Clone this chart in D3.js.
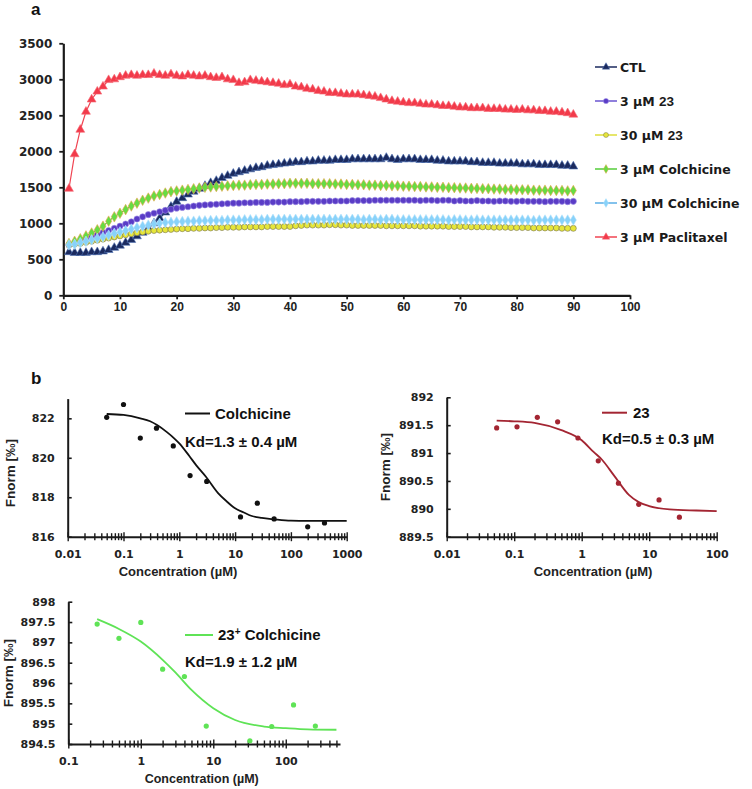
<!DOCTYPE html>
<html><head><meta charset="utf-8">
<script src="https://cdn.jsdelivr.net/npm/d3@7"></script>
<style>body{margin:0;background:#fff}</style>
</head><body><svg id="c" width="752" height="789" style="background:#fff"></svg>
<script>
// ---------- Panel a data ----------
const minutes = d3.range(1, 91);
const topXTicks = [0,10,20,30,40,50,60,70,80,90,100];
const topYTicks = [0,500,1000,1500,2000,2500,3000,3500];
const seriesNames = ["CTL","3 µM 23","30 µM 23","3 µM Colchicine","30 µM Colchicine","3 µM Paclitaxel"];

const ctl = [600,590,590,590,600,600,610,630,660,690,
730,770,820,870,930,1000,1070,1150,1230,1300,
1350,1400,1440,1480,1520,1560,1590,1630,1660,1690,
1710,1730,1750,1770,1780,1800,1810,1820,1830,1840,
1850,1850,1860,1860,1870,1870,1870,1880,1880,1880,
1890,1890,1890,1890,1890,1890,1910,1890,1880,1890,
1890,1890,1880,1880,1880,1870,1870,1860,1860,1860,
1860,1850,1850,1840,1840,1840,1830,1830,1830,1830,
1820,1820,1820,1810,1810,1810,1810,1800,1800,1790];
const c23low = [700,720,745,775,810,840,870,900,930,960,
990,1020,1060,1090,1120,1140,1160,1180,1195,1210,
1220,1230,1240,1250,1255,1260,1265,1270,1275,1280,
1280,1285,1285,1290,1290,1290,1295,1295,1295,1300,
1300,1300,1305,1305,1305,1305,1310,1310,1310,1310,
1315,1315,1315,1315,1320,1320,1320,1320,1320,1320,
1320,1320,1315,1320,1320,1315,1320,1320,1310,1315,
1310,1310,1315,1310,1310,1305,1310,1310,1305,1305,
1310,1305,1305,1305,1300,1305,1305,1305,1300,1305];
const c23high = [700,710,720,735,750,765,780,795,810,825,
840,855,870,880,890,900,905,910,915,920,
925,925,930,930,935,935,940,940,945,945,
945,950,950,950,950,955,955,955,955,955,
965,970,975,975,975,975,980,980,975,975,
970,970,970,970,970,970,965,965,965,965,
965,965,960,960,960,960,960,955,955,955,
955,950,950,950,950,945,945,945,940,940,
940,940,935,935,935,935,935,930,930,930];
const colLow = [720,750,785,825,865,910,960,1030,1090,1140,
1190,1240,1280,1320,1350,1380,1400,1420,1440,1450,
1460,1470,1480,1490,1500,1505,1510,1515,1520,1525,
1530,1530,1535,1540,1540,1545,1545,1550,1550,1555,
1555,1555,1555,1550,1550,1550,1550,1545,1545,1540,
1540,1535,1535,1530,1530,1525,1525,1520,1520,1515,
1515,1510,1510,1505,1505,1500,1500,1495,1495,1490,
1490,1485,1485,1480,1480,1475,1475,1470,1470,1465,
1465,1465,1460,1460,1460,1455,1455,1455,1450,1455];
const colHigh = [700,710,730,750,770,790,810,835,860,880,
900,920,940,960,975,990,1000,1010,1015,1020,
1025,1030,1030,1035,1035,1040,1040,1040,1045,1045,
1045,1050,1050,1050,1050,1055,1055,1055,1055,1055,
1055,1055,1055,1055,1055,1055,1055,1055,1055,1055,
1055,1055,1050,1055,1055,1050,1055,1055,1050,1050,
1050,1050,1050,1050,1050,1050,1050,1045,1050,1050,
1045,1045,1050,1045,1045,1045,1045,1045,1045,1045,
1045,1045,1040,1045,1045,1045,1045,1045,1045,1045];
const paclitaxel = [1480,1960,2300,2550,2720,2830,2900,2990,3000,3030,
3050,3060,3050,3060,3060,3080,3060,3050,3070,3050,
3040,3060,3050,3040,3050,3030,3020,3030,3000,2990,
2950,2960,2990,2980,2970,2960,2950,2940,2920,2930,
2900,2890,2870,2860,2840,2830,2810,2810,2800,2790,
2790,2790,2780,2770,2760,2740,2720,2700,2690,2680,
2670,2670,2660,2650,2650,2640,2630,2630,2620,2610,
2610,2600,2600,2600,2590,2590,2590,2580,2580,2575,
2580,2570,2570,2560,2560,2550,2550,2540,2530,2510];

// ---------- Panel b data ----------
const colConc = [0.05,0.1,0.2,0.39,0.78,1.56,3.1,12.5,25,50,200,400];
const colF = [822.05,822.7,821.0,821.5,820.6,819.1,818.8,817.0,817.7,816.9,816.5,816.7];
const colFitConc = [0.05,0.1,0.2,0.3,0.4,0.6,0.8,1,1.5,2,3,5,7,10,15,20,30,50,100,200,500,1000];
const colFitF = [822.22,822.17,822.0,821.85,821.66,821.3,821.0,820.73,820.1,819.63,819.04,818.2,817.8,817.44,817.2,817.05,816.95,816.88,816.81,816.8,816.8,816.8];
const colYTicks = [816,818,820,822];
const colXLabels = [0.01,0.1,1,10,100,1000];

const c23Conc = [0.055,0.11,0.22,0.44,0.88,1.76,3.5,7,14,28];
const c23F = [891.45,891.47,891.64,891.56,891.27,890.86,890.46,890.08,890.16,889.85];
const c23FitConc = [0.055,0.1,0.2,0.5,1,1.5,2,3,5,7,10,20,50,100];
const c23FitF = [891.58,891.57,891.54,891.41,891.23,891.02,890.88,890.6,890.25,890.12,890.05,889.99,889.97,889.96];
const c23YTicks = [889.5,890,890.5,891,891.5,892];
const c23XLabels = [0.01,0.1,1,10,100];

const mixConc = [0.25,0.5,1,2,4,8,32,64,128,256];
const mixF = [897.45,897.1,897.49,896.34,896.16,894.94,894.58,894.93,895.46,894.94];
const mixFitConc = [0.25,0.5,1,2,3,5,10,20,50,100,200,500];
const mixFitF = [897.57,897.33,897.02,896.57,896.26,895.83,895.38,895.09,894.93,894.89,894.86,894.85];
const mixYTicks = [894.5,895,895.5,896,896.5,897,897.5,898];
const mixXLabels = [0.1,1,10,100];

// ---------- Drawing ----------
const svg = d3.select("#c");
const AX = "#1a1a1a";
const FB = "'Liberation Sans', Arial, sans-serif";
const FD = "'DejaVu Sans', sans-serif";

svg.append("text").attr("x",31).attr("y",15).text("a")
  .attr("font-family",FB).attr("font-weight","bold").attr("font-size",17).attr("fill","#111");
svg.append("text").attr("x",31).attr("y",384).text("b")
  .attr("font-family",FB).attr("font-weight","bold").attr("font-size",17).attr("fill","#111");

// Panel a
const xT = d3.scaleLinear().domain([0,100]).range([63.3,630]);
const yT = d3.scaleLinear().domain([0,3500]).range([295.3,43.3]);

const gxa = svg.append("g").attr("transform",`translate(0,${yT(0)})`)
  .call(d3.axisBottom(xT).tickValues(topXTicks).tickFormat(d3.format("d")).tickSize(4).tickSizeOuter(0));
gxa.select(".domain").attr("stroke",AX).attr("stroke-width",2.2);
gxa.selectAll(".tick line").attr("stroke",AX).attr("stroke-width",1.8);
gxa.selectAll(".tick text").attr("font-family",FB).attr("font-weight","bold")
  .attr("font-size",12).attr("fill","#222");

const gya = svg.append("g").attr("transform",`translate(${xT(0)},0)`)
  .call(d3.axisLeft(yT).tickValues(topYTicks).tickFormat(d3.format("d")).tickSize(4).tickPadding(7).tickSizeOuter(0));
gya.select(".domain").attr("stroke",AX).attr("stroke-width",2.2);
gya.selectAll(".tick line").attr("stroke",AX).attr("stroke-width",1.8);
gya.selectAll(".tick text").attr("font-family",FD).attr("font-weight","bold")
  .attr("font-size",12).attr("fill","#222");

const seriesValues = [ctl, c23low, c23high, colLow, colHigh, paclitaxel];
const seriesStyle = [
  {line:"#1b2a5e", fill:"#1b2a5e", stroke:"#4f72b5", sym:d3.symbolTriangle, size:34},
  {line:"#6a55d0", fill:"#5a3cc6", stroke:"#9d8fe6", sym:d3.symbolCircle, size:30},
  {line:"#dede3a", fill:"#e6e63a", stroke:"#77744c", sym:d3.symbolCircle, size:28},
  {line:"#55cc3a", fill:"#66dc44", stroke:"#eea24a", sym:d3.symbolDiamond, size:32},
  {line:"#5aaee6", fill:"#88d2fa", stroke:"#b5e2fb", sym:d3.symbolDiamond, size:32},
  {line:"#f04452", fill:"#f23a4a", stroke:"#f56a76", sym:d3.symbolTriangle, size:34}
];
const lineT = d3.line().x((d,i)=>xT(minutes[i])).y(d=>yT(d));
seriesValues.forEach((vals,si)=>{
  const st = seriesStyle[si];
  const g = svg.append("g");
  g.append("path").attr("d",lineT(vals)).attr("fill","none").attr("stroke",st.line).attr("stroke-width",1.2);
  g.selectAll("path.m").data(vals).join("path").attr("class","m")
    .attr("d",d3.symbol().type(st.sym).size(st.size)())
    .attr("transform",(d,i)=>`translate(${xT(minutes[i])},${yT(d)})`)
    .attr("fill",st.fill).attr("stroke",st.stroke).attr("stroke-width",0.6);
});

// legend a
const legY = d3.scalePoint().domain(seriesNames).range([67,237]);
seriesNames.forEach((name,si)=>{
  const st = seriesStyle[si];
  const y = legY(name);
  svg.append("line").attr("x1",595).attr("x2",617).attr("y1",y).attr("y2",y)
    .attr("stroke",st.line).attr("stroke-width",1.5);
  svg.append("path").attr("d",d3.symbol().type(st.sym).size(st.size*0.7)())
    .attr("transform",`translate(606,${y})`).attr("fill",st.fill).attr("stroke",st.stroke).attr("stroke-width",0.5);
  const t = svg.append("text").attr("x",620).attr("y",y+4.5)
    .attr("font-family",FD).attr("font-weight","bold").attr("font-size",12.5).attr("fill","#1a1a1a");
  const m = name.match(/^(.*µM )23$/);
  if (m) {
    t.append("tspan").text(m[1]);
    t.append("tspan").attr("font-family",FB).attr("font-size",13.5).text("23");
  } else t.text(name);
});

// ---------- log panels ----------
function logTicks(d0,d1){
  const out=[];
  for(let e=Math.floor(Math.log10(d0)); e<=Math.ceil(Math.log10(d1)); e++){
    for(let m=1;m<=9;m++){
      const v=+(m*Math.pow(10,e)).toPrecision(6);
      if(v>=d0*0.999 && v<=d1*1.001) out.push(v);
    }
  }
  return out;
}
function panel(cfg){
  const x = d3.scaleLog().domain(cfg.xDomain).range(cfg.xRange);
  const y = d3.scaleLinear().domain(cfg.yDomain).range(cfg.yRange);
  const g = svg.append("g");
  const majors = new Set(cfg.xLabels);
  const gx = g.append("g").attr("transform",`translate(0,${cfg.yRange[0]})`)
    .call(d3.axisBottom(x).tickValues(logTicks(cfg.xDomain[0],cfg.xDomain[1]))
      .tickFormat(v=>majors.has(v)?String(v):"").tickSize(4).tickSizeOuter(0));
  gx.select(".domain").attr("stroke",AX).attr("stroke-width",2);
  gx.selectAll(".tick line").attr("stroke",AX).attr("stroke-width",1.4)
    .attr("y1",d=>majors.has(d)?-4.5:-3.5).attr("y2",d=>majors.has(d)?4.5:3.5);
  gx.selectAll(".tick text").attr("y",13.5).attr("font-family",FD).attr("font-weight","bold")
    .attr("font-size",11).attr("fill","#222");
  const gy = g.append("g").attr("transform",`translate(${cfg.xRange[0]},0)`)
    .call(d3.axisLeft(y).tickValues(cfg.yTicks).tickFormat(d3.format("~g")).tickSize(4).tickPadding(9).tickSizeOuter(0));
  gy.select(".domain").attr("stroke",AX).attr("stroke-width",2);
  gy.selectAll(".tick line").attr("stroke",AX).attr("stroke-width",1.6).attr("x2",4);
  gy.selectAll(".tick text").attr("font-family",FD).attr("font-weight","bold")
    .attr("font-size",11).attr("fill","#222");
  // fit curve
  const ln = d3.line().x(d=>x(d[0])).y(d=>y(d[1])).curve(d3.curveMonotoneX);
  g.append("path").attr("d",ln(cfg.fitX.map((v,i)=>[v,cfg.fitY[i]])))
    .attr("fill","none").attr("stroke",cfg.color).attr("stroke-width",1.8);
  g.selectAll("circle.p").data(cfg.px).join("circle").attr("class","p")
    .attr("cx",d=>x(d)).attr("cy",(d,i)=>y(cfg.py[i])).attr("r",2.6).attr("fill",cfg.color);
  // labels
  g.append("text").attr("transform",`translate(${cfg.yLab[0]},${cfg.yLab[1]}) rotate(-90)`)
    .attr("text-anchor","middle").attr("font-family",FB).attr("font-weight","bold")
    .attr("font-size",13.5).attr("fill","#222").text("Fnorm [‰]");
  g.append("text").attr("x",cfg.xLab[0]).attr("y",cfg.xLab[1]).attr("text-anchor","middle")
    .attr("font-family",FB).attr("font-weight","bold").attr("font-size",cfg.xLabSize||13)
    .attr("fill","#222").text("Concentration (µM)");
  // legend
  g.append("line").attr("x1",cfg.leg[0]).attr("x2",cfg.leg[1]).attr("y1",cfg.leg[2]).attr("y2",cfg.leg[2])
    .attr("stroke",cfg.color).attr("stroke-width",2);
  const lt = g.append("text").attr("x",cfg.leg[1]+5).attr("y",cfg.leg[2]+5)
    .attr("font-family",FB).attr("font-weight","bold").attr("font-size",15).attr("fill","#111");
  cfg.legText(lt);
  g.append("text").attr("x",cfg.leg[0]).attr("y",cfg.kdY).attr("font-family",FB).attr("font-weight","bold")
    .attr("font-size",15).attr("fill","#111").text(cfg.kd);
}

panel({xDomain:[0.01,1000], xRange:[67.7,346.7], yDomain:[816,823], yRange:[536.7,398.6],
  yTicks:colYTicks, xLabels:colXLabels, fitX:colFitConc, fitY:colFitF, px:colConc, py:colF,
  color:"#111", yLab:[15,473], xLab:[178,576], leg:[185,210,413.5],
  legText:t=>t.text("Colchicine"), kd:"Kd=1.3 ± 0.4 µM", kdY:447});

panel({xDomain:[0.01,100], xRange:[446.7,716.7], yDomain:[889.5,892], yRange:[536.7,397.3],
  yTicks:c23YTicks, xLabels:c23XLabels, fitX:c23FitConc, fitY:c23FitF, px:c23Conc, py:c23F,
  color:"#a32532", yLab:[390,467], xLab:[593,576], leg:[602,627,412.7],
  legText:t=>t.attr("x",633).text("23"), kd:"Kd=0.5 ± 0.3 µM", kdY:444});

panel({xDomain:[0.1,560], xRange:[68.3,340], yDomain:[894.5,898], yRange:[744,601.7],
  yTicks:mixYTicks, xLabels:mixXLabels, fitX:mixFitConc, fitY:mixFitF, px:mixConc, py:mixF,
  color:"#5fe356", yLab:[13,673], xLab:[201.7,783], xLabSize:12.5, leg:[185,213,635],
  legText:t=>{t.append("tspan").text("23");
    t.append("tspan").attr("font-size",10).attr("dy",-5).text("+");
    t.append("tspan").attr("dy",5).attr("font-weight","600").text(" Colchicine");},
  kd:"Kd=1.9 ± 1.2 µM", kdY:667});
</script></body></html>
